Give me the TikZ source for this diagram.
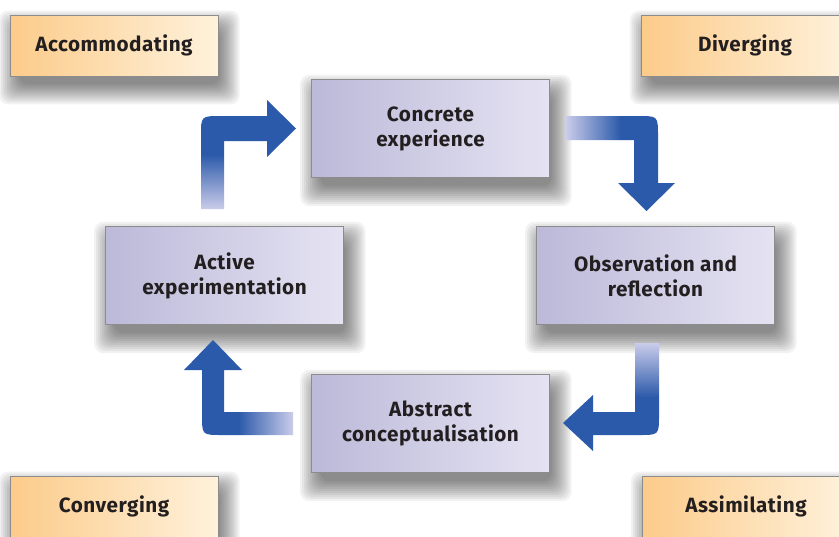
\documentclass[tikz,border=0pt]{standalone}
\usepackage{fontspec}
\setmainfont{Fira Sans}[LetterSpace=2.5]
\usetikzlibrary{backgrounds}
\definecolor{stagelilac}{RGB}{188,185,217}
\definecolor{stagepale}{RGB}{229,227,242}
\definecolor{stylepeach}{RGB}{252,203,138}
\definecolor{stylecream}{RGB}{254,242,220}
\definecolor{arrowblue}{RGB}{44,90,170}
\definecolor{arrowpale}{RGB}{202,204,234}
\definecolor{boxline}{RGB}{140,140,140}
\definecolor{inkgrey}{RGB}{35,31,32}

\tikzset{
  stagebox/.style={rectangle, draw=boxline, line width=0.6pt,
      left color=stagelilac, right color=stagepale,
      minimum width=179pt, minimum height=74pt, align=center, text=inkgrey,
      font=\bfseries\fontsize{15.5}{18.75}\selectfont},
  stylebox/.style={rectangle, draw=boxline, line width=0.6pt,
      left color=stylepeach, right color=stylecream,
      minimum width=156pt, minimum height=45.75pt, text=inkgrey,
      font=\bfseries\fontsize{15.5}{18}\selectfont},
  shadowlayer/.style={fill=black, opacity=0.05, rounded corners=7pt},
  flowarrow/.style={draw=none}
}

% soft shadow under a box, built from stacked faint rectangles
\newcommand\softshadow[1]{%
  \foreach \k in {0,...,10}{
    \fill[shadowlayer]
      ([xshift={4pt-(\k*1.5pt-3pt)}, yshift={-9pt-(\k*1.5pt-3pt)}]#1.south west)
      rectangle
      ([xshift={4pt+(\k*1.5pt-3pt)}, yshift={-9pt+(\k*1.5pt-3pt)}]#1.north east);
  }%
}

\begin{document}
\begin{tikzpicture}[x=0.75pt,y=0.75pt]
    \useasboundingbox (0,0) rectangle (839,-536);
    \clip (0,0) rectangle (839,-536);

    % learning styles in the corners
    \node[stylebox] (acc) at (114,-45.5) {Accommodating};
    \node[stylebox] (div) at (745,-45.5) {Diverging};
    \node[stylebox] (con) at (114,-506.5) {Converging};
    \node[stylebox] (ass) at (746,-506.5) {Assimilating};

    % the four stages of the cycle
    \node[stagebox] (ce) at (430.5,-128.5) {Concrete\\experience};
    \node[stagebox] (or) at (655.5,-275.5) {Observation and\\reflection};
    \node[stagebox] (ac) at (430.5,-423.5) {Abstract\\conceptualisation};
    \node[stagebox] (ae) at (224.5,-275.5) {Active\\experimentation};

    \begin{scope}[on background layer]
        \fill[white] (0,0) rectangle (839,-536);
        \foreach \b in {acc,div,con,ass,ce,or,ac,ae}{\softshadow{\b}}
    \end{scope}

    % bent arrows between the stages
    \path[flowarrow, left color=arrowpale, right color=arrowblue, middle color=arrowblue]
        (566,-116) -- (638,-116) .. controls (658,-116) .. (658,-136) -- (658,-183)
        -- (675,-183) -- (646.5,-211) -- (618,-183) -- (634,-183) -- (634,-140)
        -- (566,-140) -- cycle;
    \path[flowarrow, top color=arrowpale, bottom color=arrowblue, middle color=arrowblue]
        (635,-343) -- (659,-343) -- (659,-415) .. controls (659,-435) .. (639,-435)
        -- (593,-435) -- (593,-451) -- (563,-423) -- (593,-395) -- (593,-412)
        -- (635,-412) -- cycle;
    \path[flowarrow, left color=arrowblue, right color=arrowpale, middle color=arrowblue]
        (293,-412) -- (224,-412) -- (224,-370) -- (242,-370) -- (213,-340)
        -- (184,-370) -- (202,-370) -- (202,-415) .. controls (202,-435) .. (222,-435)
        -- (293,-435) -- cycle;
    \path[flowarrow, top color=arrowblue, bottom color=arrowpale, middle color=arrowblue]
        (201,-209) -- (201,-136) .. controls (201,-116) .. (221,-116) -- (267,-116)
        -- (267,-100) -- (296,-128.5) -- (267,-157) -- (267,-141) -- (224,-141)
        -- (224,-209) -- cycle;
\end{tikzpicture}
\end{document}
